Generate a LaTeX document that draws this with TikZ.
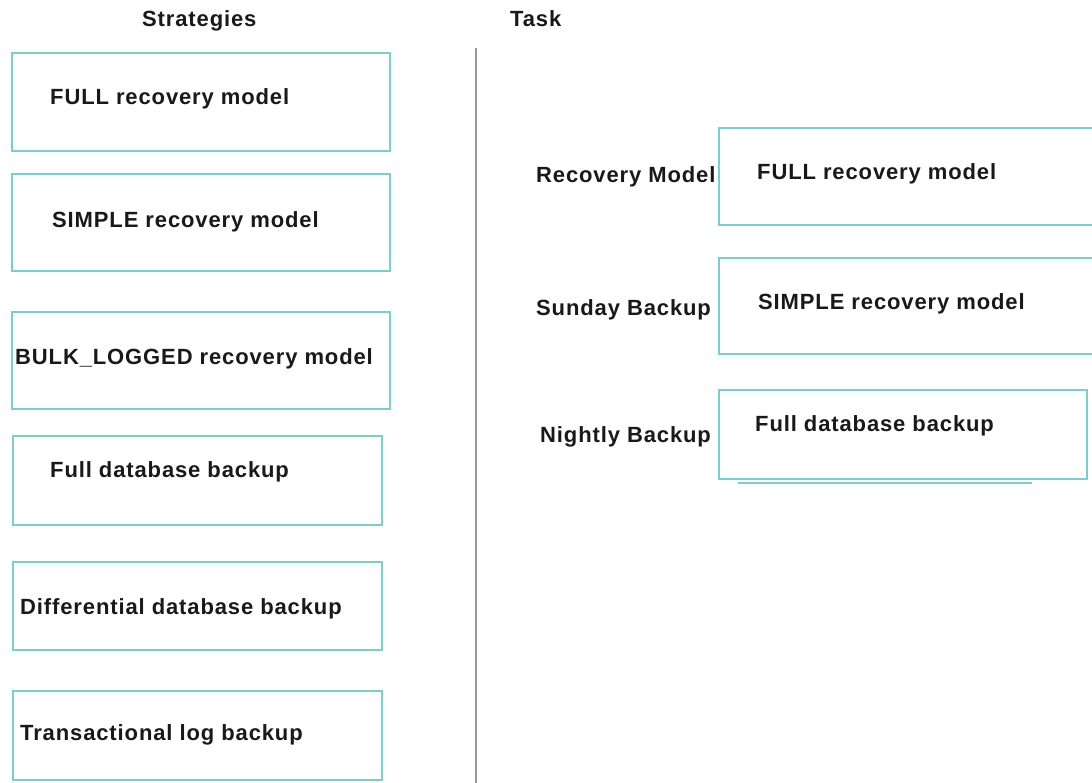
\documentclass[tikz,border=0pt]{standalone}
\usepackage{fontspec}
\setmainfont{Liberation Sans}
\newfontfamily\taskfont[LetterSpace=4]{Liberation Sans}

\definecolor{boxColor}{RGB}{125,205,205}
\definecolor{textColor}{RGB}{25,25,25}
\definecolor{divColor}{RGB}{150,150,150}

\begin{document}
\begin{tikzpicture}[x=1pt,y=-1pt,
  box/.style={draw=boxColor,line width=1.8pt,anchor=north west,inner sep=0pt},
  txt/.style={anchor=base west,inner sep=0pt,text=textColor,
    font=\taskfont\bfseries\fontsize{22}{26}\selectfont}]
  \useasboundingbox (0,0) rectangle (1092,783);
  \clip (0,0) rectangle (1092,783);
  % Headers
  \node[txt] (strat) at (142,27) {Strategies};
  \node[txt] (task) at (510,27) {Task};
  % Divider
  \coordinate (divTop) at (476,48);
  \coordinate (divBot) at (476,790);
  \draw[divColor,line width=2pt] (divTop) -- (divBot);
  % Strategies
  \node[box,minimum width=378pt,minimum height=98pt] (full) at (11,52) {};
  \node[txt] (fullTxt) at (50,105) {FULL recovery model};
  \node[box,minimum width=378pt,minimum height=97pt] (simple) at (11,173) {};
  \node[txt] (simpleTxt) at (52,228) {SIMPLE recovery model};
  \node[box,minimum width=378pt,minimum height=97pt] (bulk) at (11,311) {};
  \node[txt] (bulkTxt) at (15,364) {BULK\_LOGGED recovery model};
  \node[box,minimum width=369pt,minimum height=89pt] (fulldb) at (12,435) {};
  \node[txt] (fulldbTxt) at (50,477) {Full database backup};
  \node[box,minimum width=369pt,minimum height=88pt] (diff) at (12,561) {};
  \node[txt] (diffTxt) at (20,614) {Differential database backup};
  \node[box,minimum width=369pt,minimum height=89pt] (tlog) at (12,690) {};
  \node[txt] (tlogTxt) at (20,740) {Transactional log backup};
  % Task
  \node[txt] (recLbl) at (536,183) {Recovery Model};
  \node[box,minimum width=380pt,minimum height=97pt] (ansRec) at (718,127) {};
  \node[txt] (ansRecTxt) at (757,180) {FULL recovery model};
  \node[txt] (sunLbl) at (536,316) {Sunday Backup};
  \node[box,minimum width=380pt,minimum height=96pt] (ansSun) at (718,257) {};
  \node[txt] (ansSunTxt) at (758,310) {SIMPLE recovery model};
  \node[txt] (nightLbl) at (540,442) {Nightly Backup};
  \node[box,minimum width=368pt,minimum height=89pt] (ansNight) at (718,389) {};
  \node[txt] (ansNightTxt) at (755,431) {Full database backup};
  \draw[boxColor,line width=1.8pt] ([xshift=20pt,yshift=-3pt]ansNight.south west)
    -- ([xshift=-56pt,yshift=-3pt]ansNight.south east);
\end{tikzpicture}
\end{document}
